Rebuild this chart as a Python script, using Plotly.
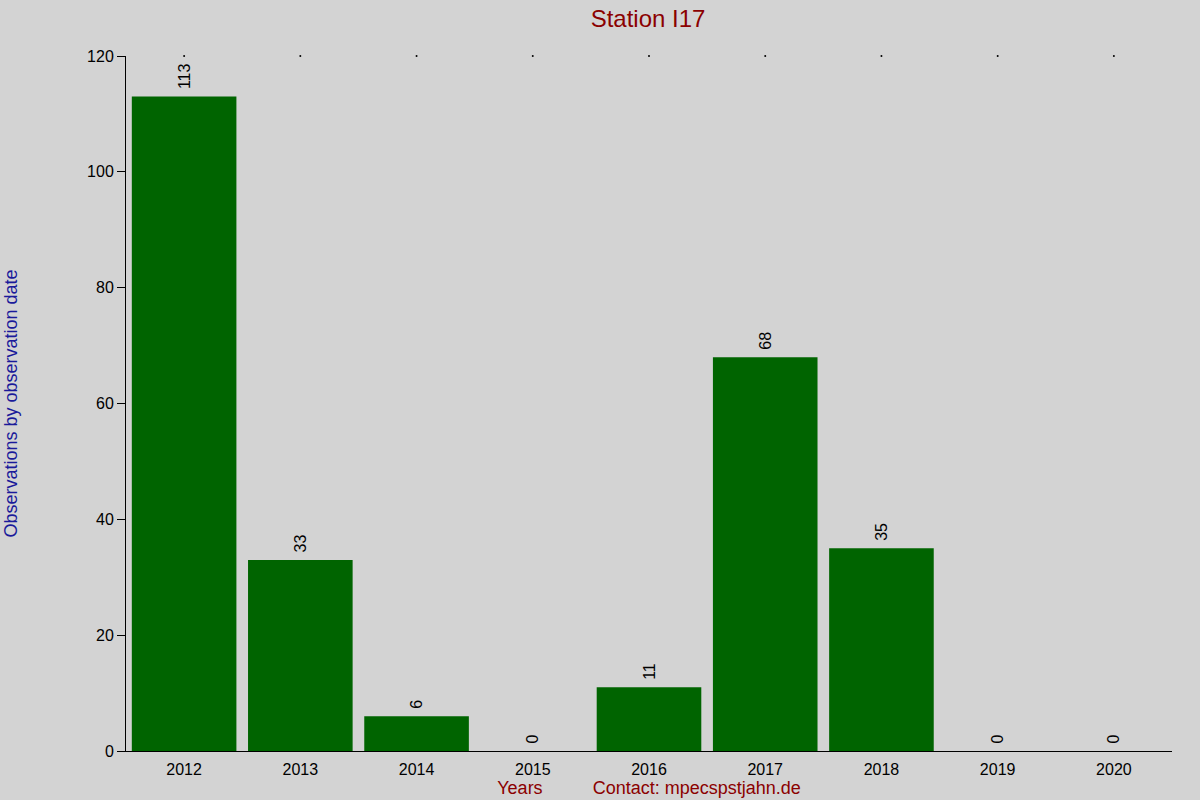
import plotly.graph_objects as go

years = ['2012', '2013', '2014', '2015', '2016', '2017', '2018', '2019', '2020']
observations = [113, 33, 6, 0, 11, 68, 35, 0, 0]
y_ticks = [0, 20, 40, 60, 80, 100, 120]

fig = go.Figure()

fig.add_trace(go.Bar(x=years, y=observations,
		marker=dict(color='#006400', line=dict(width=0)),
		texttemplate='&nbsp;%{y}',
		textposition='outside',
		textangle=-90,
		cliponaxis=False,
		textfont=dict(size=16, color='black'),
		showlegend=False))

fig.update_layout(
	width=1200, height=800,
	paper_bgcolor='#d3d3d3',
	plot_bgcolor='#d3d3d3',
	font=dict(family='Liberation Sans, Arial, sans-serif', size=16, color='black'),
	margin=dict(l=126, r=28, t=56, b=49),
	bargap=0.1,
	title=dict(text='Station I17', x=0.54, xanchor='center', y=0.977, yanchor='middle',
		font=dict(size=24, color='#8b0000')),
)

fig.update_xaxes(
	type='category',
	showline=True, linecolor='black', linewidth=1,
	ticks='', mirror=False,
	showgrid=False,
	automargin=False,
	tickfont=dict(size=16),
	ticklabelstandoff=4,
	title=dict(text='Years' + '&nbsp;' * 10 + 'Contact: mpecspstjahn.de',
		font=dict(size=18, color='#8b0000'), standoff=4),
)

fig.update_yaxes(
	range=[0, 120],
	tickvals=y_ticks,
	showline=True, linecolor='black', linewidth=1,
	ticks='outside', ticklen=8, tickcolor='black',
	showgrid=False, zeroline=False,
	automargin=False,
	tickfont=dict(size=16),
	title=dict(text='Observations by observation date',
		font=dict(size=18, color='#1a1a9a'), standoff=64),
)

# small dots along top edge at each category
fig.add_trace(go.Scatter(x=years, y=[120] * len(years), mode='markers',
		marker=dict(size=2, color='black'), showlegend=False, hoverinfo='skip',
		cliponaxis=False))

fig.write_html("out.html", config={'displayModeBar': False},
		post_script="document.body.style.margin='0';")
